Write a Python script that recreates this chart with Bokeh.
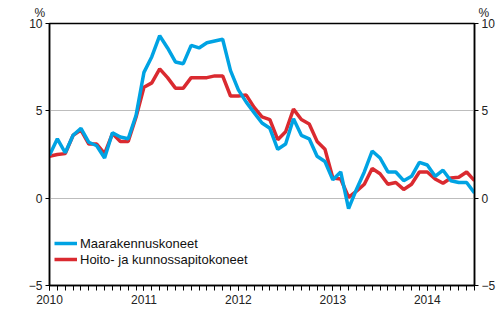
from bokeh.plotting import figure
from bokeh.models import (Range1d, LinearAxis, FixedTicker, Legend, LegendItem, Title)
from bokeh.embed import file_html
from bokeh.resources import INLINE

# Monthly data, Jan 2010 .. Jul 2014
year_labels = ["2010", "2011", "2012", "2013", "2014"]
maarakennuskoneet = [2.45, 3.4, 2.6, 3.6, 4.0, 3.2, 3.0, 2.3, 3.75, 3.5, 3.4, 4.75,
                     7.2, 8.1, 9.3, 8.6, 7.8, 7.7, 8.75, 8.6, 8.9, 9.0, 9.1, 7.3,
                     6.2, 5.5, 4.9, 4.3, 4.0, 2.8, 3.1, 4.55, 3.6, 3.4, 2.4, 2.1,
                     1.05, 1.5, -0.6, 0.5, 1.5, 2.7, 2.3, 1.5, 1.5, 1.0, 1.25, 2.05,
                     1.9, 1.25, 1.6, 1.0, 0.9, 0.9, 0.3]
hoito = [2.4, 2.5, 2.55, 3.6, 3.9, 3.1, 3.1, 2.55, 3.7, 3.25, 3.25, 4.65,
         6.35, 6.6, 7.4, 6.9, 6.3, 6.3, 6.9, 6.9, 6.9, 7.0, 7.0, 5.85,
         5.85, 5.9, 5.2, 4.65, 4.5, 3.35, 3.8, 5.1, 4.5, 4.25, 3.25, 2.8,
         1.15, 1.1, 0.05, 0.4, 0.8, 1.7, 1.4, 0.8, 0.9, 0.5, 0.8, 1.5,
         1.5, 1.1, 0.85, 1.15, 1.2, 1.5, 1.0]
y_ticks = [-5, 0, 5, 10]
unit_label = "%"

months = list(range(len(maarakennuskoneet)))
year_ticks = [12 * i for i in range(len(year_labels))]

BLUE = "#00a3e3"
RED = "#da2a30"
FONT = "Liberation Sans"

# unit markers above both y axes (annotations inside the frame are clipped,
# so they are placed in a title row; non-breaking spaces keep the gap)
title = Title(text=unit_label + "\u00a0" * 130 + unit_label, align="left",
              offset=-15, standoff=7, text_font=FONT, text_font_size="12px",
              text_font_style="normal", text_color="#222222")

p = figure(width=500, height=330, output_backend="svg", toolbar_location=None,
           x_range=Range1d(0, months[-1]), y_range=Range1d(-5, 10),
           min_border_left=49, min_border_right=26, min_border_top=21,
           min_border_bottom=45, title=title)
p.outline_line_color = "black"
p.outline_line_width = 1.5
p.background_fill_color = "white"
p.border_fill_color = "white"

# x axis
xa = p.xaxis[0]
xa.ticker = FixedTicker(ticks=year_ticks, minor_ticks=months)
xa.major_label_overrides = {t: l for t, l in zip(year_ticks, year_labels)}
xa.axis_line_color = "black"
xa.axis_line_width = 1.5
xa.major_tick_out = 5
xa.major_tick_in = 0
xa.minor_tick_out = 5
xa.minor_tick_in = 0
xa.major_tick_line_color = "black"
xa.minor_tick_line_color = "black"
xa.major_label_text_font = FONT
xa.major_label_text_font_size = "12px"
xa.major_label_text_color = "#222222"
xa.major_label_standoff = 4

# y axes
def style_y(ax):
    ax.ticker = FixedTicker(ticks=y_ticks)
    ax.axis_line_color = "black"
    ax.axis_line_width = 1.5
    ax.major_tick_out = 4
    ax.major_tick_in = 0
    ax.minor_tick_line_color = None
    ax.major_tick_line_color = "black"
    ax.major_label_text_font = FONT
    ax.major_label_text_font_size = "12px"
    ax.major_label_text_color = "#222222"
    ax.major_label_standoff = 3

style_y(p.yaxis[0])
ra = LinearAxis()
style_y(ra)
p.add_layout(ra, "right")

p.xgrid.grid_line_color = None
p.ygrid.ticker = FixedTicker(ticks=[0, 5])
p.ygrid.grid_line_color = "#bdbdbd"
p.ygrid.grid_line_width = 1

r_red = p.line(months, hoito, line_color=RED, line_width=3.5)
r_blue = p.line(months, maarakennuskoneet, line_color=BLUE, line_width=3.5)

legend = Legend(items=[LegendItem(label="Maarakennuskoneet", renderers=[r_blue]),
                       LegendItem(label="Hoito- ja kunnossapitokoneet", renderers=[r_red])],
                location=(5, 18), orientation="vertical",
                background_fill_alpha=0, border_line_color=None,
                padding=0, margin=0, spacing=0,
                glyph_width=23, glyph_height=16, label_height=16,
                label_standoff=3,
                label_text_font=FONT, label_text_font_size="13px",
                label_text_color="#111111")
p.add_layout(legend)

open("out.html", "w").write(file_html(p, INLINE))
